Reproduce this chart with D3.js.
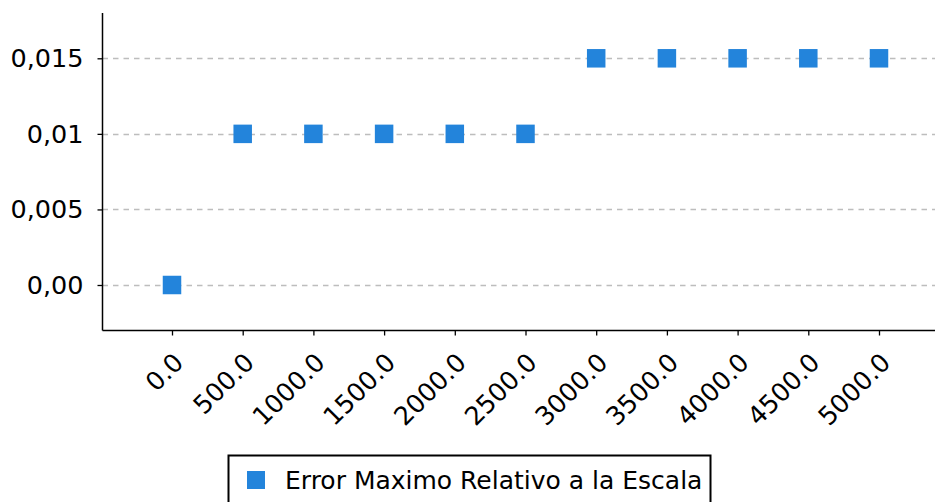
<!DOCTYPE html>
<html><head><meta charset="utf-8">
<script src="https://cdn.jsdelivr.net/npm/d3@7/dist/d3.min.js"></script>
<style>
html,body{margin:0;padding:0;background:#fff;}
svg{display:block;font-family:"DejaVu Sans",sans-serif;}
</style></head>
<body>
<svg id="chart" width="935" height="502"></svg>
<script>
const xValues = [0, 500, 1000, 1500, 2000, 2500, 3000, 3500, 4000, 4500, 5000];
const yValues = [0, 0.01, 0.01, 0.01, 0.01, 0.01, 0.015, 0.015, 0.015, 0.015, 0.015];
const xTickLabels = ["0.0","500.0","1000.0","1500.0","2000.0","2500.0","3000.0","3500.0","4000.0","4500.0","5000.0"];
const yTicks = [0, 0.005, 0.01, 0.015];
const yTickLabels = ["0,00","0,005","0,01","0,015"];
const seriesName = "Error Maximo Relativo a la Escala";
const color = "#2384db";

(function () {
const svg = d3.select("#chart");
const pl = 102.5, pr = 935, pt = 13, pb = 330.5;

const x = d3.scaleLinear().domain([0, 5000]).range([172, 879]);
const y = d3.scaleLinear().domain([0, 0.015]).range([285, 58.3]);

// gridlines
svg.append("g").selectAll("line").data(yTicks).join("line")
  .attr("x1", pl).attr("x2", pr)
  .attr("y1", d => Math.round(y(d)) + 0.5).attr("y2", d => Math.round(y(d)) + 0.5)
  .attr("stroke", "#bdbdbd").attr("stroke-width", 1.3)
  .attr("stroke-dasharray", "5.5,5");

// y axis
const yAxis = d3.axisLeft(y).tickValues(yTicks).tickSize(5).tickPadding(14)
  .tickFormat((d, i) => yTickLabels[i]);
const gy = svg.append("g").attr("transform", `translate(${pl},0)`).call(yAxis);
gy.select(".domain").remove();
gy.selectAll(".tick line").attr("stroke", "#000").attr("stroke-width", 1.3);
gy.selectAll(".tick text").attr("font-size", 25.5).attr("font-family", "DejaVu Sans").attr("fill", "#000");
svg.append("line").attr("x1", pl).attr("x2", pl).attr("y1", pt).attr("y2", pb)
  .attr("stroke", "#000").attr("stroke-width", 1.5);

// x axis
const xAxis = d3.axisBottom(x).tickValues(xValues).tickSize(5).tickFormat(() => "");
const gx = svg.append("g").attr("transform", `translate(0,${pb})`).call(xAxis);
gx.select(".domain").remove();
gx.selectAll(".tick line").attr("stroke", "#000").attr("stroke-width", 1.3);
svg.append("line").attr("x1", pl).attr("x2", pr).attr("y1", pb).attr("y2", pb)
  .attr("stroke", "#000").attr("stroke-width", 1.5);

svg.append("g").selectAll("text").data(xValues).join("text")
  .attr("transform", d => `translate(${x(d) + 13},364) rotate(-45)`)
  .attr("text-anchor", "end")
  .attr("font-size", 25.5).attr("fill", "#000")
  .text((d, i) => xTickLabels[i]);

// markers
const s = 18.5;
svg.append("g").selectAll("rect").data(xValues).join("rect")
  .attr("x", d => x(d) - s / 2).attr("y", (d, i) => y(yValues[i]) - s / 2)
  .attr("width", s).attr("height", s)
  .attr("fill", color);

// legend
const lg = svg.append("g");
lg.append("rect").attr("x", 228.5).attr("y", 455.5).attr("width", 482).attr("height", 60)
  .attr("fill", "#fff").attr("stroke", "#000").attr("stroke-width", 2);
lg.append("rect").attr("x", 247).attr("y", 471).attr("width", 18).attr("height", 18).attr("fill", color);
lg.append("text").attr("x", 285).attr("y", 489).attr("font-size", 25).attr("fill", "#000").text(seriesName);
})();
</script>
</body></html>
